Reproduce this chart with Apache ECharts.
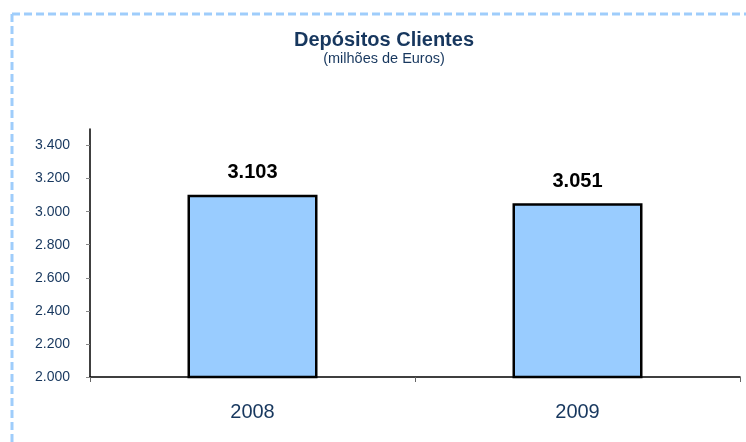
<!DOCTYPE html>
<html>
<head>
<meta charset="utf-8">
<script src="https://cdn.jsdelivr.net/npm/echarts@6/dist/echarts.min.js"></script>
<style>
html,body{margin:0;padding:0;background:#fff}
#chart{width:746px;height:442px}
</style>
</head>
<body>
<div id="chart"></div>
<script>
// data
const years = ['2008', '2009']
const depositos = [3103, 3051]
const yTicks = [2000, 2200, 2400, 2600, 2800, 3000, 3200, 3400]

const navy = '#17375e'
const fmt = function(v){
	return String(v).replace(/\B(?=(\d{3})+(?!\d))/g, '.')
}

const chart = echarts.init(document.getElementById('chart'))
chart.setOption({
	animation:false,
	backgroundColor:'#ffffff',
	title:{
		text:'Depósitos Clientes',
		subtext:'(milhões de Euros)',
		left:379,
		textAlign:'center',
		top:25,
		itemGap:1,
		textStyle:{
			fontFamily:'Liberation Sans, Arial, sans-serif',
			fontSize:20,
			fontWeight:'bold',
			color:navy
		},
		subtextStyle:{
			fontFamily:'Liberation Sans, Arial, sans-serif',
			fontSize:14.5,
			color:navy
		}
	},
	graphic:[
		{
			type:'line',
			shape:{x1:12, y1:14, x2:746, y2:14},
			style:{stroke:'#9fcdfb', lineWidth:3, lineDash:[8,4]}
		},
		{
			type:'line',
			shape:{x1:12, y1:14, x2:12, y2:442},
			style:{stroke:'#9fcdfb', lineWidth:3, lineDash:[8,4]}
		}
	],
	grid:{
		left:90,
		right:6,
		top:129,
		bottom:65
	},
	xAxis:{
		type:'category',
		data:years,
		axisLine:{lineStyle:{color:'#000', width:1.5}},
		axisTick:{
			show:true,
			length:5,
			inside:false,
			lineStyle:{color:'#666'}
		},
		axisLabel:{
			margin:25,
			fontSize:20,
			color:navy,
			fontFamily:'Liberation Sans, Arial, sans-serif'
		}
	},
	yAxis:{
		type:'value',
		min:2000,
		max:3500,
		interval:100,
		splitLine:{show:false},
		axisLine:{show:true, lineStyle:{color:'#000', width:1.5}},
		axisTick:{
			show:true,
			length:4,
			customValues:yTicks,
			lineStyle:{color:'#888'}
		},
		axisLabel:{
			margin:20,
			fontSize:14,
			color:navy,
			fontFamily:'Liberation Sans, Arial, sans-serif',
			customValues:yTicks,
			formatter:function(v){ return fmt(v) }
		}
	},
	series:[{
		type:'bar',
		data:depositos,
		barWidth:'40%',
		itemStyle:{
			color:'#99ccff',
			borderColor:'#000',
			borderWidth:2.5
		},
		label:{
			show:true,
			position:'top',
			distance:12,
			fontSize:20,
			fontWeight:'bold',
			color:'#000',
			fontFamily:'Liberation Sans, Arial, sans-serif',
			formatter:function(p){ return fmt(p.value) }
		}
	}]
})
</script>
</body>
</html>
